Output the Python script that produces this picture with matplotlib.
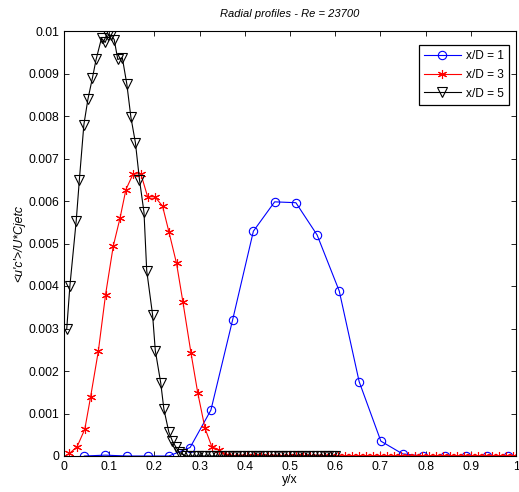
import matplotlib
matplotlib.use("Agg")
import matplotlib.pyplot as plt

plt.rcParams['font.family'] = ['Liberation Sans', 'DejaVu Sans']

# x/D = 1
x1 = [0.045, 0.091, 0.139, 0.185, 0.232, 0.279, 0.325, 0.373, 0.419, 0.466, 0.513,
      0.560, 0.609, 0.653, 0.701, 0.749, 0.795, 0.843, 0.889, 0.935, 0.982]
y1 = [0.0, 0.00002, 0.0, 0.0, 0.0, 0.0002, 0.00108, 0.0032, 0.00529, 0.00598, 0.00596,
      0.0052, 0.00388, 0.00175, 0.00035, 0.00005, 0.0, 0.0, 0.0, 0.0, 0.0]

# x/D = 3
x3 = [0.012, 0.029, 0.046, 0.059, 0.076, 0.092, 0.109, 0.124, 0.137, 0.153, 0.170,
      0.185, 0.201, 0.218, 0.232, 0.249, 0.263, 0.281, 0.296, 0.312, 0.327, 0.343,
      0.358, 0.374, 0.389, 0.405, 0.420, 0.436, 0.451, 0.467, 0.482, 0.498, 0.513,
      0.529, 0.544, 0.560, 0.575, 0.591, 0.606, 0.622, 0.637, 0.653, 0.668, 0.684,
      0.699, 0.715, 0.730, 0.746, 0.761, 0.777, 0.792, 0.808, 0.823, 0.839, 0.854,
      0.870, 0.885, 0.901, 0.916, 0.932, 0.947, 0.963, 0.978, 0.994]
y3 = [0.00006, 0.00022, 0.00063, 0.0014, 0.00247, 0.0038, 0.00494, 0.0056, 0.00627,
      0.00664, 0.00664, 0.0061, 0.0061, 0.00588, 0.00528, 0.00453, 0.00363, 0.00242,
      0.00148, 0.00065, 0.00022, 0.00014, 0.00003, 0.0, 0.0, 0.0, 0.0, 0.0, 0.0, 0.0,
      0.0, 0.0, 0.0, 0.0, 0.0, 0.0, 0.0, 0.0, 0.0, 0.0, 0.0, 0.0, 0.0, 0.0, 0.0, 0.0,
      0.0, 0.0, 0.0, 0.0, 0.0, 0.0, 0.0, 0.0, 0.0, 0.0, 0.0, 0.0, 0.0, 0.0, 0.0, 0.0,
      0.0, 0.0]

# x/D = 5
x5 = [0.006, 0.013, 0.027, 0.034, 0.044, 0.053, 0.063, 0.071, 0.083, 0.091, 0.098,
      0.104, 0.111, 0.119, 0.129, 0.139, 0.148, 0.158, 0.167, 0.177, 0.183, 0.196,
      0.202, 0.214, 0.221, 0.232, 0.240, 0.247, 0.254, 0.262, 0.271, 0.279, 0.288,
      0.296, 0.305, 0.313, 0.322, 0.330, 0.339, 0.347, 0.356, 0.364, 0.373, 0.381,
      0.390, 0.398, 0.407, 0.415, 0.424, 0.432, 0.441, 0.449, 0.458, 0.466, 0.475,
      0.483, 0.492, 0.500, 0.509, 0.517, 0.526, 0.534, 0.543, 0.551, 0.560, 0.568,
      0.577, 0.585, 0.594, 0.600]
y5 = [0.00298, 0.0040, 0.00553, 0.0065, 0.0078, 0.0084, 0.0089, 0.00933, 0.00983,
      0.00973, 0.0099, 0.0099, 0.0098, 0.00933, 0.00937, 0.00875, 0.00797, 0.00737,
      0.0065, 0.00573, 0.00436, 0.00332, 0.00248, 0.00172, 0.0011, 0.00056, 0.00035,
      0.00022, 0.0001, 0.00004, 0.0, 0.0, 0.0, 0.0, 0.0, 0.0, 0.0, 0.0, 0.0, 0.0, 0.0,
      0.0, 0.0, 0.0, 0.0, 0.0, 0.0, 0.0, 0.0, 0.0, 0.0, 0.0, 0.0, 0.0, 0.0, 0.0, 0.0,
      0.0, 0.0, 0.0, 0.0, 0.0, 0.0, 0.0, 0.0, 0.0, 0.0, 0.0, 0.0, 0.0]

xticks = [0, 0.1, 0.2, 0.3, 0.4, 0.5, 0.6, 0.7, 0.8, 0.9, 1]
xticklabels = ["0", "0.1", "0.2", "0.3", "0.4", "0.5", "0.6", "0.7", "0.8", "0.9", "1"]
yticks = [0, 0.001, 0.002, 0.003, 0.004, 0.005, 0.006, 0.007, 0.008, 0.009, 0.01]
yticklabels = ["0", "0.001", "0.002", "0.003", "0.004", "0.005", "0.006", "0.007",
               "0.008", "0.009", "0.01"]

fig = plt.figure(figsize=(5.19, 4.92), dpi=100)
ax = fig.add_axes([64/519, 36/492, 452/519, 425/492])

ax.plot(x1, y1, color='b', lw=0.8, marker='o', ms=6, mfc='none', mew=0.8, label='x/D = 1')
ax.plot(x3, y3, color='r', lw=0.8, marker=(6, 2, 0), ms=6.5, mew=0.8, label='x/D = 3')
ax.plot(x5, y5, color='k', lw=0.8, marker='v', ms=6.5, mfc='none', mew=0.8, label='x/D = 5')

ax.set_xlim(0, 1)
ax.set_ylim(0, 0.01)
ax.set_xticks(xticks)
ax.set_xticklabels(xticklabels)
ax.set_yticks(yticks)
ax.set_yticklabels(yticklabels)
ax.tick_params(direction='in', top=True, right=True, length=3.5, width=0.6, labelsize=8.8)
for s in ax.spines.values():
    s.set_linewidth(0.8)

ax.set_xlabel("y/x", fontsize=8.8, labelpad=1)
ax.set_ylabel("<u'c'>/U*Cjetc", fontsize=8.8, style='italic', labelpad=2)
ax.set_title("Radial profiles - Re = 23700", fontsize=8, style='italic', pad=10)

lgd = ax.legend(loc='upper right', bbox_to_anchor=((509 - 64) / 452, (456 - 45) / 425),
                fontsize=8.6, fancybox=False, framealpha=1, edgecolor='k',
                borderaxespad=0, handlelength=3.1, handletextpad=0.4,
                borderpad=0.45, labelspacing=0.55)
lgd.get_frame().set_linewidth(0.9)

fig.savefig('out.png', dpi=100)
